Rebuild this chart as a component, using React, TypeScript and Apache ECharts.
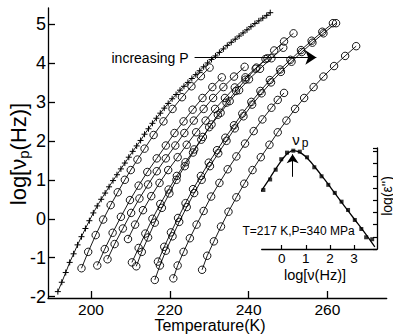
import React, { useEffect, useRef } from "react";
import * as echarts from "echarts";

const FONT = "Liberation Sans, Arial, Helvetica, sans-serif";

// Main axes ticks
const xTicks = [200, 220, 240, 260];
const yTicks = [-2, -1, 0, 1, 2, 3, 4, 5];
const insetXTicks = [0, 1, 2, 3];

// Crosses series (lowest pressure)
const crossT = [191.6, 192.6, 193.6, 194.6, 195.6, 196.6, 197.6, 198.6, 199.6, 200.6, 201.6, 202.6, 203.6, 204.6, 205.6, 206.6, 207.6, 208.6, 209.6, 210.6, 211.6, 212.6, 213.6, 214.6, 215.6, 216.6, 217.6, 218.6, 219.6, 220.6, 221.6, 222.6, 223.6, 224.6, 225.6, 226.6, 227.6, 228.6, 229.6, 230.6, 231.6, 232.6, 233.6, 234.6, 235.6, 236.6, 237.6, 238.6, 239.6, 240.6, 241.6, 242.6, 243.6, 244.6, 245.5];
const crossV = [-1.87, -1.63, -1.38, -1.12, -0.9, -0.67, -0.46, -0.25, -0.05, 0.15, 0.33, 0.5, 0.66, 0.82, 0.98, 1.13, 1.28, 1.43, 1.58, 1.73, 1.87, 2.01, 2.17, 2.31, 2.45, 2.58, 2.71, 2.84, 2.96, 3.08, 3.19, 3.3, 3.4, 3.5, 3.6, 3.7, 3.8, 3.9, 4.0, 4.09, 4.18, 4.27, 4.36, 4.45, 4.53, 4.61, 4.69, 4.77, 4.85, 4.93, 5.01, 5.08, 5.15, 5.22, 5.29];

// Circle series [T, log nu_p]
const serA = [[197.6, -1.27], [199.3, -0.85], [201.2, -0.42], [203.1, -0.02], [205.0, 0.35], [206.8, 0.68], [208.6, 1.0], [210.1, 1.25], [211.8, 1.52], [213.6, 1.8], [215.9, 2.15], [218.4, 2.5], [220.7, 2.82], [223.1, 3.12], [225.5, 3.4], [227.9, 3.66], [230.1, 3.88]];
const serB = [[201.6, -1.2], [203.5, -0.78], [205.5, -0.36], [207.6, 0.05], [209.9, 0.48], [212.1, 0.85], [214.3, 1.2], [216.7, 1.55], [219.0, 1.88], [221.2, 2.2], [223.5, 2.5], [225.8, 2.8], [228.3, 3.1], [230.8, 3.38], [233.2, 3.63]];
const serC = [[204.2, -1.04], [206.0, -0.65], [208.1, -0.25], [210.2, 0.15], [212.3, 0.52], [214.5, 0.88], [216.7, 1.22], [219.0, 1.55], [221.4, 1.88], [223.7, 2.2], [226.1, 2.52], [228.6, 2.82], [231.0, 3.1], [233.6, 3.38], [236.3, 3.65], [239.0, 3.9]];
const serD = [[209.4, -0.52], [211.2, -0.15], [213.2, 0.22], [215.3, 0.58], [217.4, 0.92], [219.6, 1.25], [222.0, 1.58], [224.3, 1.9], [226.7, 2.22], [229.1, 2.52], [231.5, 2.82], [234.0, 3.1], [236.5, 3.37], [239.2, 3.63], [242.0, 3.88], [244.8, 4.12]];
const serE = [[210.4, -1.12], [212.1, -0.75], [213.8, -0.38], [215.6, 0.0], [217.6, 0.38], [219.7, 0.75], [221.8, 1.1], [224.0, 1.45], [226.2, 1.78], [228.4, 2.1], [230.6, 2.42], [232.9, 2.72], [235.2, 3.02], [237.6, 3.3], [240.1, 3.58], [242.9, 3.85], [245.8, 4.12], [248.8, 4.39]];
const serF = [[211.5, -1.22], [212.9, -0.85], [214.5, -0.48], [216.2, -0.1], [218.0, 0.28], [219.9, 0.65], [221.7, 1.0], [223.8, 1.35], [225.9, 1.7], [228.0, 2.03], [230.0, 2.35], [232.2, 2.67], [234.4, 2.98], [236.8, 3.28], [239.2, 3.57], [241.8, 3.85], [244.3, 4.1], [246.5, 4.32], [249.0, 4.55], [251.4, 4.76]];
const serG1 = [[216.2, -1.57], [217.5, -1.2], [219.0, -0.82], [220.7, -0.45], [222.4, -0.08], [224.3, 0.3], [226.2, 0.66], [228.1, 1.0], [230.2, 1.35], [232.3, 1.68], [234.4, 2.0], [236.5, 2.32], [238.7, 2.63], [240.9, 2.93], [243.3, 3.22], [245.7, 3.5], [248.2, 3.77], [250.9, 4.03], [253.5, 4.28], [256.2, 4.52], [259.0, 4.76], [262.2, 5.02]];
const serG2 = [[217.0, -1.1], [218.6, -0.72], [220.3, -0.35], [222.1, 0.02], [224.0, 0.4], [225.9, 0.76], [227.9, 1.1], [229.9, 1.44], [232.0, 1.76], [234.1, 2.08], [236.3, 2.4], [238.4, 2.7], [240.7, 3.0], [243.0, 3.28], [245.4, 3.56], [248.0, 3.83], [250.6, 4.08], [253.3, 4.33], [256.0, 4.57], [258.7, 4.8], [261.4, 5.02]];
const serH = [[220.9, -1.53], [222.0, -1.2], [223.5, -0.85], [225.1, -0.5], [226.8, -0.15], [228.6, 0.2], [230.5, 0.57], [232.6, 0.92], [234.7, 1.27], [236.9, 1.6], [239.1, 1.93], [241.3, 2.25], [243.5, 2.55], [245.8, 2.85], [247.4, 3.05], [249.0, 3.23]];
const serJ = [[228.2, -1.31], [229.5, -0.95], [231.2, -0.58], [233.0, -0.2], [234.9, 0.18], [236.9, 0.55], [238.9, 0.9], [241.0, 1.25], [243.1, 1.58], [245.3, 1.9], [247.4, 2.22], [249.6, 2.52], [251.8, 2.82], [254.1, 3.1], [256.5, 3.38], [259.0, 3.65], [261.7, 3.92], [264.5, 4.18], [267.3, 4.43]];

// Inset: loss spectrum at T=217 K, P=340 MPa
const insetPtsX = [-0.76, -0.48, -0.25, -0.02, 0.22, 0.48, 0.75, 1.05, 1.35, 1.65, 1.93, 2.2, 2.48, 2.75, 3.03, 3.3, 3.5, 3.75];
const insetPtsY = [2.42, 2.85, 3.25, 3.68, 3.95, 4.03, 3.99, 3.76, 3.35, 2.98, 2.63, 2.3, 1.94, 1.6, 1.19, 0.82, 0.48, 0.4];
const insetFitX = [-0.87, -0.6, -0.35, -0.1, 0.1, 0.3, 0.48, 0.65, 0.85, 1.1, 1.4, 1.8, 2.2, 2.6, 3.0, 3.4, 3.86];
const insetFitY = [2.35, 2.74, 3.13, 3.5, 3.77, 3.96, 4.03, 4.0, 3.9, 3.68, 3.33, 2.82, 2.29, 1.76, 1.24, 0.72, 0.09];

// Annotations (data coords)
const arrowP = { x0: 226.3, x1: 257.2, y: 4.14 };
const peakArrow = { x: 0.45, y0: 2.96, y1: 3.88 };

const circleSeries = [serA, serB, serC, serD, serE, serF, serG1, serG2, serH, serJ];

export default function App() {
  const ref = useRef<HTMLDivElement>(null);
  useEffect(() => {
    const chart = echarts.init(ref.current!, null, { renderer: "svg" });
    const black = "#000";
    const axisLine = { show: true, onZero: false, lineStyle: { color: black, width: 1.3 } };
    const series: any[] = [];
    series.push({
      type: "line",
      xAxisIndex: 0,
      yAxisIndex: 0,
      data: crossT.map((t, i) => [t, crossV[i]]),
      symbol: "path://M5 0 L5 10 M0 5 L10 5",
      symbolSize: 6,
      itemStyle: { color: "rgba(0,0,0,0)", borderColor: black, borderWidth: 1 },
      lineStyle: { color: black, width: 0.9 },
      silent: true,
      markLine: {
        silent: true,
        symbol: ["none", "arrow"],
        symbolSize: 11,
        label: { show: false },
        lineStyle: { color: black, width: 1, type: "solid" },
        data: [[{ coord: [arrowP.x0, arrowP.y] }, { coord: [arrowP.x1, arrowP.y] }]],
        animation: false,
      },
    });
    circleSeries.forEach((d) => {
      series.push({
        type: "line",
        xAxisIndex: 0,
        yAxisIndex: 0,
        data: d,
        symbol: "circle",
        symbolSize: 7.5,
        itemStyle: { color: "rgba(0,0,0,0)", borderColor: black, borderWidth: 0.9 },
        lineStyle: { color: black, width: 0.9 },
        silent: true,
      });
    });
    series.push({
      type: "line",
      xAxisIndex: 1,
      yAxisIndex: 1,
      data: insetFitX.map((x, i) => [x, insetFitY[i]]),
      smooth: 0.5,
      showSymbol: false,
      lineStyle: { color: black, width: 1.3 },
      silent: true,
      markLine: {
        silent: true,
        symbol: ["none", "arrow"],
        symbolSize: 9,
        label: { show: false },
        lineStyle: { color: black, width: 1, type: "solid" },
        data: [[{ coord: [peakArrow.x, peakArrow.y0] }, { coord: [peakArrow.x, peakArrow.y1] }]],
        animation: false,
      },
    });
    series.push({
      type: "scatter",
      xAxisIndex: 1,
      yAxisIndex: 1,
      data: insetPtsX.map((x, i) => [x, insetPtsY[i]]),
      symbol: "rect",
      symbolSize: 4,
      itemStyle: { color: black },
      silent: true,
    });

    const option: any = {
      animation: false,
      backgroundColor: "#fff",
      textStyle: { fontFamily: FONT },
      grid: [
        { left: 48, top: 8, width: 338.7, height: 290 },
        { left: 261.7, top: 148, width: 115.3, height: 101 },
      ],
      xAxis: [
        {
          type: "value",
          gridIndex: 0,
          min: 189.1,
          max: 275.05,
          axisLine,
          splitLine: { show: false },
          axisTick: { show: true, inside: true, length: 7, customValues: xTicks, lineStyle: { color: black, width: 1.3 } },
          axisLabel: { customValues: xTicks, fontSize: 15.5, color: black, margin: 3, fontFamily: FONT },
        },
        {
          type: "value",
          gridIndex: 1,
          min: -0.83,
          max: 3.95,
          axisLine,
          splitLine: { show: false },
          axisTick: { show: true, inside: true, length: 4, customValues: insetXTicks, lineStyle: { color: black, width: 1.2 } },
          axisLabel: { customValues: insetXTicks, fontSize: 13.5, color: black, margin: 2, fontFamily: FONT },
        },
      ],
      yAxis: [
        {
          type: "value",
          gridIndex: 0,
          min: -2.034,
          max: 5.41,
          axisLine,
          splitLine: { show: false },
          axisTick: { show: true, inside: true, length: 7, customValues: yTicks, lineStyle: { color: black, width: 1.3 } },
          axisLabel: { customValues: yTicks, fontSize: 18, color: black, margin: 2, fontFamily: FONT },
        },
        {
          type: "value",
          gridIndex: 1,
          position: "right",
          min: 0,
          max: 4.14,
          interval: 0.5,
          axisLine,
          splitLine: { show: false },
          axisTick: { show: true, inside: true, length: 4, lineStyle: { color: black, width: 1.2 } },
          axisLabel: { show: false },
        },
      ],
      series,
      graphic: [
        {
          type: "text",
          x: 18,
          y: 154,
          rotation: Math.PI / 2,
          style: {
            text: "{n|log[ν}{s|p}{n|(Hz)]}",
            align: "center",
            verticalAlign: "middle",
            fill: black,
            rich: {
              n: { fontSize: 22, fontFamily: FONT, lineHeight: 26, fill: black },
              s: { fontSize: 15, fontFamily: FONT, lineHeight: 13, verticalAlign: "bottom", fill: black },
            },
          },
        },
        {
          type: "text",
          x: 210,
          y: 325,
          style: { text: "Temperature(K)", fontSize: 16, fontFamily: FONT, fill: black, align: "center", verticalAlign: "middle" },
        },
        {
          type: "text",
          x: 111.5,
          y: 58,
          style: { text: "increasing P", fontSize: 14, fontFamily: FONT, fill: black, align: "left", verticalAlign: "middle" },
        },
        {
          type: "text",
          x: 242.5,
          y: 230.5,
          style: { text: "T=217 K,P=340 MPa", fontSize: 12, fontFamily: FONT, fill: black, align: "left", verticalAlign: "middle" },
        },
        {
          type: "text",
          x: 296,
          y: 139,
          style: { text: "ν", fontSize: 15, fontFamily: FONT, fill: black, align: "center", verticalAlign: "middle" },
        },
        {
          type: "text",
          x: 305,
          y: 143,
          style: { text: "p", fontSize: 12, fontFamily: FONT, fill: black, align: "center", verticalAlign: "middle" },
        },
        {
          type: "text",
          x: 315,
          y: 275,
          style: { text: "log[ν(Hz)]", fontSize: 14.5, fontFamily: FONT, fill: black, align: "center", verticalAlign: "middle" },
        },
        {
          type: "text",
          x: 386.5,
          y: 196,
          rotation: Math.PI / 2,
          style: { text: "log(ε'')", fontSize: 14, fontFamily: FONT, fill: black, align: "center", verticalAlign: "middle" },
        },
      ],
    };
    chart.setOption(option);
    return () => chart.dispose();
  }, []);
  return <div ref={ref} style={{ position: "absolute", left: 0, top: 0, width: 393, height: 334 }} />;
}
